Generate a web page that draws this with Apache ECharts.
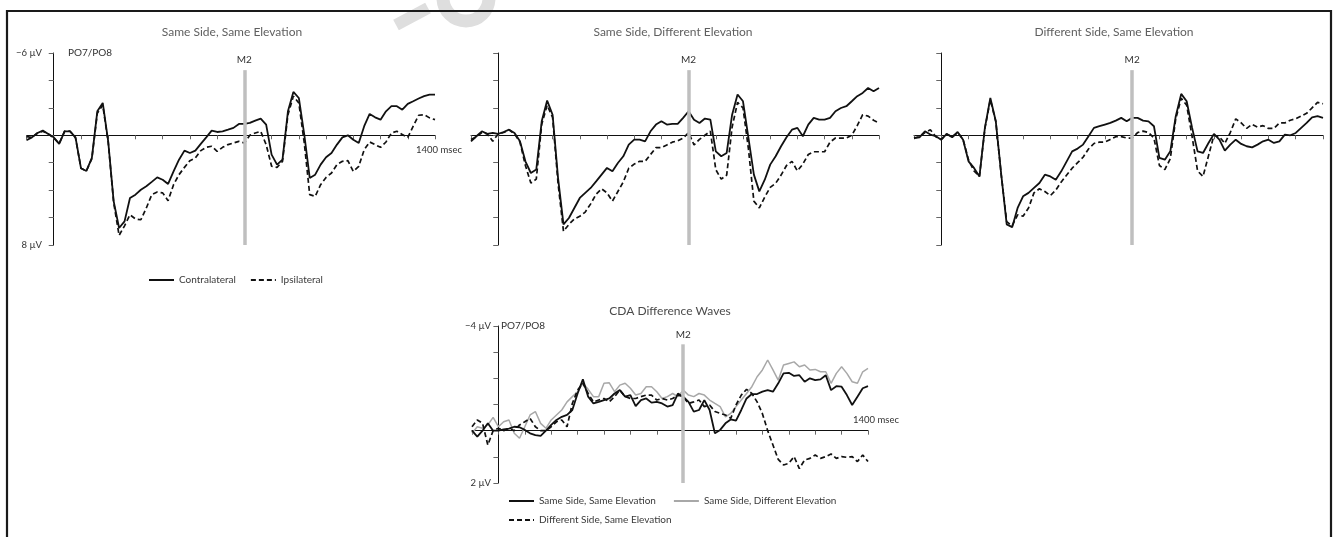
<!DOCTYPE html>
<html>
<head>
<meta charset="utf-8">
<script src="https://cdn.jsdelivr.net/npm/echarts@6/dist/echarts.min.js"></script>
<style>
html,body{margin:0;padding:0;background:#ffffff;}
#chart{width:1334px;height:537px;}
</style>
</head>
<body>
<div id="chart"></div>
<script>
// ---------- DATA ----------
const times = [-100,-80,-60,-40,-20,0,20,40,60,80,
  100,120,140,160,180,200,220,240,260,280,
  300,320,340,360,380,400,420,440,460,480,
  500,520,540,560,580,600,620,640,660,680,
  700,720,740,760,780,800,820,840,860,880,
  900,920,940,960,980,1000,1020,1040,1060,1080,
  1100,1120,1140,1160,1180,1200,1220,1240,1260,1280,
  1300,1320,1340,1360,1380,1400];

const panelTitles = ['Same Side, Same Elevation', 'Same Side, Different Elevation', 'Different Side, Same Elevation'];
const cdaTitle = 'CDA Difference Waves';
const topSeriesNames = ['Contralateral', 'Ipsilateral'];
const cdaSeriesNames = ['Same Side, Same Elevation', 'Same Side, Different Elevation', 'Different Side, Same Elevation'];

// Panel 1: Same Side, Same Elevation (µV, negative up)
const p1Contra = [0.36,0.15,-0.17,-0.34,-0.1,0.15,0.63,-0.29,-0.29,0.15,
  2.4,2.6,1.65,-1.75,-2.36,0.44,4.8,6.76,6.28,4.57,
  4.33,3.97,3.72,3.4,3.07,3.24,3.55,2.63,1.78,1.12,
  1.29,1.12,0.63,0.15,-0.34,-0.24,-0.29,-0.41,-0.54,-0.83,
  -0.83,-0.9,-1.07,-1.22,-0.78,1.41,2.14,1.78,-1.75,-3.16,
  -2.72,-0.05,3.11,2.87,2.14,1.6,1.29,0.68,0.15,0,
  0.32,0.56,-0.66,-1.56,-1.31,-1.14,-1.75,-2.12,-2.12,-1.87,
  -2.29,-2.48,-2.68,-2.85,-2.97,-2.97];
const p1Ipsi = [0.1,0.15,-0.15,-0.3,-0.1,0.2,0.6,-0.3,-0.3,0.2,
  2.4,2.6,1.7,-1.6,-2.2,0.5,4.9,7.3,6.6,5.8,
  6.1,6.16,5.3,4.33,4.14,4.2,4.77,3.6,2.87,2.34,
  1.85,1.65,1.12,0.88,0.8,1.17,0.88,0.68,0.56,0.44,
  0.56,0,-0.17,-0.29,0.68,2.26,2.34,1.9,-1.5,-2.85,
  -2.36,0.56,4.33,4.45,3.6,3.07,2.75,2.14,1.9,1.85,
  2.63,2.26,1.05,0.49,0.68,0.88,0.49,-0.17,-0.29,-0.05,
  0.15,-0.66,-1.46,-1.5,-1.27,-1.14];

// Panel 2: Same Side, Different Elevation
const p2Contra = [0.44,0.07,-0.29,-0.1,-0.17,-0.1,-0.24,-0.41,-0.17,0.44,
  1.9,2.75,2.5,-1.02,-2.53,-1.5,3.11,6.5,6.03,5.3,
  4.57,4.2,3.84,3.36,2.87,2.38,2.63,2.02,1.53,0.68,
  0.32,0.32,0.44,-0.29,-0.78,-1.02,-0.78,-0.83,-0.83,-1.27,
  -1.75,-1.14,-0.9,-1.22,-1.14,1.17,1.53,1.29,-1.5,-2.97,
  -2.48,0.19,2.87,4.09,3.24,2.14,1.53,0.8,0.15,-0.41,
  -0.54,0.07,-0.78,-1.27,-1.14,-1.14,-1.27,-1.75,-1.99,-2.12,
  -2.48,-2.85,-3.09,-3.45,-3.21,-3.45];
const p2Ipsi = [0.3,0.1,-0.2,-0.1,0.44,-0.1,-0.2,-0.4,-0.1,0.5,
  2.2,3.48,3.2,-0.8,-2.2,-1.3,3.5,7.0,6.5,6.1,
  5.9,5.6,5.0,4.3,3.9,4.2,4.8,4.1,3.4,2.4,
  2.1,1.9,1.9,1.4,0.9,0.9,0.7,0.5,0.4,0.2,
  -0.2,0.7,0.3,0.0,-0.3,2.5,3.2,2.9,-0.6,-2.4,
  -2.0,1.0,4.8,5.3,4.5,3.8,3.5,2.9,2.2,1.9,
  2.6,2.1,1.4,1.2,1.2,1.2,0.5,0.2,0.2,0.2,
  0.0,-0.7,-1.5,-1.4,-1.1,-0.9];

// Panel 3: Different Side, Same Elevation
const p3Contra = [0.2,0.15,-0.29,-0.05,0.07,0.32,-0.1,0.15,-0.24,0.32,
  1.9,2.38,3.0,-0.54,-2.72,-1.02,2.87,6.5,6.7,5.3,
  4.45,4.2,3.84,3.48,2.87,3.0,3.24,2.63,1.9,1.17,
  0.97,0.68,0.07,-0.54,-0.66,-0.78,-0.9,-1.07,-1.27,-1.02,
  -1.27,-1.27,-1.07,-1.02,-0.66,1.65,1.78,1.17,-1.39,-3.02,
  -2.48,-0.54,1.17,1.29,0.56,-0.1,0.32,1.12,0.68,0.32,
  0.63,0.8,0.88,0.68,0.44,0.32,0.56,0.44,-0.05,0,
  -0.17,-0.54,-0.9,-1.31,-1.39,-1.27];
const p3Ipsi = [0.2,0.1,-0.2,-0.4,0.1,0.3,-0.1,0.1,-0.2,0.3,
  1.8,2.6,3.0,-0.5,-2.6,-1.0,2.9,6.3,6.6,5.8,
  5.9,5.3,4.2,3.9,4.1,4.4,4.0,3.4,2.9,2.4,
  2.0,1.6,1.0,0.6,0.5,0.5,0.3,0.1,0.1,0.2,
  0.2,-0.2,-0.3,-0.2,0.2,2.2,2.5,1.7,-1.2,-2.7,
  -2.2,0.1,2.6,3.0,1.5,0.0,0.1,0.6,-0.2,-1.2,
  -0.9,-0.5,-0.8,-0.6,-0.7,-0.5,-0.5,-0.9,-0.9,-1.1,
  -1.2,-1.4,-1.6,-2.0,-2.4,-2.3];

// CDA difference waves
const cdaSameSame = [0,0.23,0,-0.28,0,0,-0.05,-0.08,-0.15,-0.13,
  -0.03,0.1,0.17,0.2,0,-0.22,-0.41,-0.53,-0.6,-0.79,
  -1.42,-1.96,-1.3,-1.04,-1.1,-1.17,-1.23,-1.42,-1.55,-1.3,
  -1.36,-0.94,-1.17,-1.23,-1.07,-1.1,-1.04,-0.92,-0.98,-1.42,
  -1.3,-1.1,-0.73,-0.79,-1.17,-0.79,0.1,-0.03,-0.28,-0.43,
  -0.38,-0.79,-1.23,-1.4,-1.4,-1.49,-1.55,-1.49,-1.81,-2.19,
  -2.21,-2.09,-2.12,-1.87,-2.0,-1.93,-1.96,-2.12,-1.55,-1.7,
  -1.68,-1.36,-0.98,-1.3,-1.62,-1.7];
const cdaSameDiff = [0.1,-0.15,-0.09,-0.22,-0.51,-0.15,-0.34,-0.41,0.1,0.29,
  -0.15,-0.6,-0.73,-0.28,-0.09,-0.41,-0.6,-0.79,-1.1,-1.3,
  -1.49,-1.81,-1.58,-1.3,-1.3,-1.81,-1.83,-1.49,-1.74,-1.81,
  -1.62,-1.36,-1.42,-1.68,-1.68,-1.49,-1.23,-1.3,-1.42,-1.3,
  -1.55,-1.36,-1.3,-1.42,-1.36,-1.17,-1.04,-0.92,-0.53,-0.66,
  -0.92,-1.17,-1.42,-1.68,-2.06,-2.32,-2.7,-2.32,-1.93,-2.51,
  -2.57,-2.63,-2.44,-2.51,-2.32,-2.34,-2.25,-2.25,-1.81,-2.19,
  -2.44,-2.19,-1.87,-1.81,-2.25,-2.38];
const cdaDiffSame = [-0.15,-0.41,-0.28,0.55,0,-0.09,0,-0.09,0,-0.22,
  -0.34,-0.47,-0.15,0,0,-0.15,-0.34,-0.41,-0.15,-1.04,
  -1.55,-1.81,-1.42,-1.1,-1.17,-1.23,-1.1,-1.3,-1.55,-1.3,
  -1.23,-1.23,-1.3,-1.36,-1.36,-1.17,-1.23,-1.17,-1.23,-1.36,
  -1.3,-1.04,-1.1,-1.17,-0.92,-0.98,-0.73,-0.66,-0.6,-0.47,
  -0.98,-1.36,-1.58,-1.42,-1.1,-0.65,0.0,0.55,1.1,1.31,
  1.25,0.99,1.45,1.12,1.06,0.93,1.06,0.99,0.89,1.06,
  0.99,1.02,0.99,1.18,0.93,1.18];

// Axis ticks / labels
const xRange = [-100, 1400];
const xTickStep = 100;
const xEndLabel = '1400 msec';
const topYRange = [-6, 8];
const topYStep = 2;
const topYTickLabels = ['\u22126 \u00b5V', '', '', '', '', '', '', '8 \u00b5V'];
const cdaYRange = [-4, 2];
const cdaYStep = 1;
const cdaYTickLabels = ['\u22124 \u00b5V', '', '', '', '', '', '2 \u00b5V'];
const electrodeLabel = 'PO7/PO8';
const m2Label = 'M2';
const m2Time = 700;
const topM2Span = [8, -4.75];
const cdaM2Span = [2, -3.3];

// ---------- CHART ----------
const FONT = 'Lato, "Liberation Sans", "DejaVu Sans", sans-serif';
const chart = echarts.init(document.getElementById('chart'), null, {renderer: 'canvas'});

function pairs(vals) { return times.map((t, i) => [t, vals[i]]); }

const gridsPx = [
  {left: 26.5, top: 53, width: 408.5, height: 192},
  {left: 471, top: 53, width: 408, height: 192},
  {left: 914, top: 53, width: 409, height: 192},
  {left: 472, top: 326, width: 396, height: 157}
];

function makeX(i, showEndLabel, labelMargin, shiftPad) {
  return {
    type: 'value', gridIndex: i, min: xRange[0], max: xRange[1], interval: xTickStep,
    axisLine: {show: true, onZero: true, lineStyle: {color: '#111', width: 1}},
    axisTick: {show: true, length: 4, lineStyle: {color: '#666', width: 1}},
    axisLabel: {
      show: showEndLabel, margin: labelMargin, fontSize: 9.5, color: '#333', fontFamily: FONT,
      padding: [0, 0, 0, shiftPad || 0],
      formatter: v => (v === xRange[1] ? xEndLabel : '')
    },
    splitLine: {show: false}
  };
}
function makeY(i, range, step, labels, showLabels, labelMargin) {
  return {
    type: 'value', gridIndex: i, inverse: true, min: range[0], max: range[1], interval: step,
    axisLine: {show: true, onZero: true, lineStyle: {color: '#111', width: 1}},
    axisTick: {show: true, length: 5, lineStyle: {color: '#666', width: 1}},
    axisLabel: {
      show: showLabels, margin: labelMargin, fontSize: 9.5, color: '#333', fontFamily: FONT,
      formatter: v => labels[Math.round((v - range[0]) / step)] || ''
    },
    splitLine: {show: false}
  };
}
function m2Mark(span) {
  return {
    silent: true, animation: false, symbol: ['none', 'none'],
    lineStyle: {color: '#bfbfbf', width: 3.5, type: 'solid'},
    emphasis: {disabled: true},
    label: {show: true, position: 'end', distance: 5, formatter: m2Label, color: '#333', fontSize: 10, fontFamily: FONT},
    data: [[{coord: [m2Time, span[0]]}, {coord: [m2Time, span[1]]}]]
  };
}
const solidStyle = {color: '#111', width: 1.8, type: 'solid'};
const dashStyle = {color: '#111', width: 1.7, type: [5, 3]};

const topData = [[p1Contra, p1Ipsi], [p2Contra, p2Ipsi], [p3Contra, p3Ipsi]];
const series = [];
topData.forEach((pd, i) => {
  series.push({
    name: topSeriesNames[0], type: 'line', xAxisIndex: i, yAxisIndex: i,
    data: pairs(pd[0]), showSymbol: false, symbol: 'none', color: '#111',
    lineStyle: solidStyle, z: 3, markLine: m2Mark(topM2Span), emphasis: {disabled: true}
  });
  series.push({
    name: topSeriesNames[1], type: 'line', xAxisIndex: i, yAxisIndex: i,
    data: pairs(pd[1]), showSymbol: false, symbol: 'none', color: '#111',
    lineStyle: dashStyle, z: 2, emphasis: {disabled: true}
  });
});
series.push({
  name: cdaSeriesNames[0], type: 'line', xAxisIndex: 3, yAxisIndex: 3,
  data: pairs(cdaSameSame), showSymbol: false, symbol: 'none', color: '#111',
  lineStyle: solidStyle, z: 4, markLine: m2Mark(cdaM2Span), emphasis: {disabled: true}
});
series.push({
  name: cdaSeriesNames[1], type: 'line', xAxisIndex: 3, yAxisIndex: 3,
  data: pairs(cdaSameDiff), showSymbol: false, symbol: 'none', color: '#a8a8a8',
  lineStyle: {color: '#a8a8a8', width: 1.5, type: 'solid'}, z: 2, emphasis: {disabled: true}
});
series.push({
  name: cdaSeriesNames[2], type: 'line', xAxisIndex: 3, yAxisIndex: 3,
  data: pairs(cdaDiffSame), showSymbol: false, symbol: 'none', color: '#111',
  lineStyle: dashStyle, z: 3, emphasis: {disabled: true}
});

const legendText = {fontSize: 10, color: '#3a3a3a', fontFamily: FONT};
const legendCommon = {itemWidth: 25, itemHeight: 12, padding: 0, textStyle: legendText, selectedMode: false,
  itemStyle: {opacity: 0, borderWidth: 0}};
const titleFont = '12px ' + FONT;

function txt(x, y, text, font, fill, align) {
  return {type: 'text', x: x, y: y, silent: true, z: 10,
    style: {text: text, font: font, fill: fill, align: align || 'center', verticalAlign: 'middle',
            textAlign: align || 'center', textVerticalAlign: 'middle'}};
}

const option = {
  animation: false,
  backgroundColor: '#ffffff',
  grid: gridsPx.map(g => Object.assign({containLabel: false, outerBoundsMode: 'none'}, g)),
  xAxis: [makeX(0, true, -100, 8), makeX(1, false, 10), makeX(2, false, 10), makeX(3, true, -68, 16)],
  yAxis: [
    makeY(0, topYRange, topYStep, topYTickLabels, true, -15.5),
    makeY(1, topYRange, topYStep, topYTickLabels, false, 9),
    makeY(2, topYRange, topYStep, topYTickLabels, false, 9),
    makeY(3, cdaYRange, cdaYStep, cdaYTickLabels, true, -19)
  ],
  legend: [
    Object.assign({data: topSeriesNames, left: 148, top: 275, itemGap: 14}, legendCommon),
    Object.assign({data: cdaSeriesNames.slice(0, 2), left: 508, top: 496, itemGap: 17}, legendCommon),
    Object.assign({data: cdaSeriesNames.slice(2), left: 508, top: 515}, legendCommon)
  ],
  graphic: [
    // faint watermark
    {type: 'arc', silent: true, z: 0, shape: {cx: 466, cy: -2, r: 23, startAngle: 0, endAngle: Math.PI},
     style: {stroke: '#dedede', lineWidth: 13, fill: 'none'}},
    {type: 'line', silent: true, z: 0, shape: {x1: 396, y1: 25, x2: 428, y2: 8},
     style: {stroke: '#dedede', lineWidth: 12}},
    // frame
    {type: 'rect', silent: true, z: 5, shape: {x: 7, y: 11, width: 1324, height: 600},
     style: {fill: 'none', stroke: '#1a1a1a', lineWidth: 2.2}},
    txt(232, 32, panelTitles[0], titleFont, '#5f5f5f'),
    txt(673, 32, panelTitles[1], titleFont, '#5f5f5f'),
    txt(1114, 32, panelTitles[2], titleFont, '#5f5f5f'),
    txt(670, 311, cdaTitle, titleFont, '#4a4a4a'),
    txt(68, 53, electrodeLabel, '10px ' + FONT, '#333', 'left'),
    txt(501, 326, electrodeLabel, '10px ' + FONT, '#333', 'left')
  ],
  series: series
};
chart.setOption(option);
</script>
</body>
</html>
